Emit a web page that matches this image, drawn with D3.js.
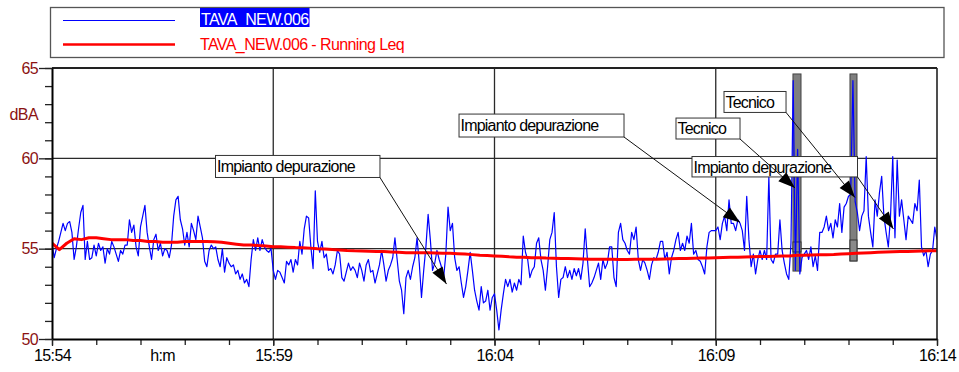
<!DOCTYPE html>
<html><head><meta charset="utf-8">
<script src="https://cdn.jsdelivr.net/npm/d3@7"></script>
<style>
html,body{margin:0;padding:0;background:#fff;}
svg{display:block;font-family:"Liberation Sans",Arial,sans-serif;}
</style></head><body>
<svg id="chart" width="959" height="372"></svg>
<script>
// ---------- data ----------
const seriesName = "TAVA_NEW.006";
const leqName = "TAVA_NEW.006 - Running Leq";
const xTickSeconds = [0, 300, 600, 900, 1200];
const xTickLabels = ["15:54", "15:59", "16:04", "16:09", "16:14"];
const xUnitLabel = "h:m";
const xUnitSecond = 150;
const yTickValues = [50, 55, 60, 65];
const yUnitLabel = "dBA";
const sampleStep = 3;   // seconds between samples
const levels = [
55.3,54.5,55.0,55.4,55.9,56.4,56.0,56.4,56.5,55.9,54.4,55.1,56.1,57.0,57.4,54.4,55.4,54.4,54.5,55.2,
54.6,55.3,54.9,55.1,54.2,55.0,54.7,55.4,55.1,54.7,54.3,54.9,54.7,55.2,55.2,56.6,55.9,56.3,55.1,54.6,
56.2,56.8,57.4,55.9,55.1,54.4,55.5,55.8,54.9,55.3,54.6,55.0,54.9,54.5,55.2,56.8,57.7,57.9,56.6,56.1,
55.2,55.9,55.1,56.4,56.0,55.5,56.8,56.2,55.6,54.3,54.0,54.9,55.2,55.0,55.1,54.4,54.0,55.0,53.7,54.5,
54.2,54.0,54.1,53.6,53.8,53.3,53.6,53.1,53.3,52.9,54.4,55.5,54.9,55.6,54.9,55.5,55.1,54.9,54.8,55.0,
53.8,53.3,53.8,53.7,53.4,53.1,54.3,54.1,54.4,53.7,54.4,54.1,55.4,54.7,56.1,56.8,56.7,55.1,53.9,58.2,
55.4,54.8,55.4,54.5,54.7,53.8,53.9,53.6,54.1,54.9,54.7,53.4,53.2,53.7,54.2,53.8,54.0,53.8,53.4,54.2,
53.8,53.2,54.1,54.4,53.7,53.8,53.1,53.6,54.1,54.9,54.1,53.2,53.8,54.1,54.5,55.6,54.4,53.2,52.7,51.4,
53.4,53.8,53.3,54.0,54.5,55.6,54.2,52.3,53.8,55.1,56.9,55.5,53.8,54.2,54.9,54.4,54.0,53.4,54.7,57.3,
56.0,56.4,54.5,53.8,54.0,53.1,52.3,52.9,53.8,54.8,53.8,52.7,52.1,51.6,52.9,52.0,52.1,52.7,51.6,52.3,
52.5,51.6,50.5,51.6,52.5,53.3,52.9,53.3,52.6,53.1,52.7,53.3,53.0,55.7,54.8,54.4,53.4,53.8,54.0,55.3,
55.6,54.4,53.8,52.7,54.0,55.5,55.9,57.0,54.0,52.3,53.3,53.4,54.0,53.4,53.8,53.3,53.9,53.5,53.9,53.3,
54.2,56.1,54.4,52.9,53.1,53.4,53.8,54.2,53.3,54.4,53.9,54.2,55.1,55.1,53.4,52.9,55.9,56.4,55.5,55.3,
54.9,54.7,55.9,55.5,56.2,54.4,53.8,54.4,54.2,53.8,53.3,54.1,54.5,54.4,54.8,55.4,55.4,54.4,54.8,53.6,
54.5,54.9,55.5,55.9,54.9,55.3,54.9,55.7,55.3,56.4,54.7,54.9,54.4,54.3,54.0,53.6,55.1,55.9,56.0,56.0,
56.0,56.2,55.5,56.4,56.8,56.0,57.7,56.4,56.4,56.0,56.6,56.4,56.0,54.9,57.9,55.5,54.0,54.7,53.6,54.4,
54.9,54.4,54.9,54.4,59.0,54.4,54.2,54.7,54.7,56.6,54.9,54.2,53.6,53.3,55.3,64.3,53.8,60.5,53.6,54.5,
54.7,54.9,54.4,55.1,54.0,54.6,53.8,55.9,55.9,56.2,56.8,56.0,56.4,55.6,56.6,56.2,57.5,55.9,57.3,57.5,
57.9,58.0,64.3,57.6,57.0,56.0,56.8,57.1,60.1,56.8,55.9,55.1,57.7,56.8,58.1,59.0,56.8,55.9,55.1,56.8,
60.1,55.6,59.9,56.8,57.7,56.6,55.5,56.8,56.6,56.4,57.5,57.1,58.8,55.1,54.6,54.9,54.0,54.7,54.9,56.2,
55.5
];
const leqStep = 10;     // seconds between running-Leq values
const leq = [
55.3,54.95,55.3,55.55,55.5,55.6,55.6,55.55,55.5,55.5,55.5,55.45,55.45,55.4,55.4,55.35,55.35,55.35,55.4,55.4,
55.4,55.4,55.38,55.35,55.3,55.25,55.2,55.2,55.17,55.15,55.1,55.1,55.08,55.06,55.05,55.03,55.0,54.98,54.95,54.93,
54.9,54.88,54.87,54.86,54.85,54.84,54.82,54.8,54.78,54.77,54.77,54.77,54.76,54.75,54.74,54.72,54.7,54.67,54.64,54.62,
54.6,54.58,54.55,54.53,54.52,54.5,54.5,54.48,54.47,54.46,54.45,54.44,54.43,54.42,54.42,54.41,54.41,54.4,54.4,54.41,
54.41,54.42,54.42,54.43,54.44,54.45,54.46,54.47,54.48,54.49,54.5,54.51,54.52,54.53,54.54,54.55,54.56,54.57,54.58,54.59,
54.6,54.63,54.64,54.65,54.66,54.67,54.68,54.7,54.72,54.74,54.76,54.78,54.8,54.82,54.83,54.84,54.85,54.86,54.87,54.88,
54.88
];
// annotations in data units: [t0, t1] seconds, [top dB, bottom dB], tip [t, dB]
const annotationTexts = ["Impianto depurazione", "Impianto depurazione", "Tecnico", "Tecnico", "Impianto depurazione"];
const annotationBoxTimes = [[221.7, 444.7], [551.9, 775.6], [846.1, 932.9], [911.2, 995.3], [867.8, 1092.2]];
const annotationBoxLevels = [[60.16, 58.94], [62.45, 61.18], [62.23, 61.07], [63.70, 62.54], [60.10, 58.97]];
const annotationTips = [[534.9, 53.04], [932.9, 56.45], [1007.5, 58.36], [1088.8, 57.83], [1141.0, 56.09]];
// marker bars: time span, [top dB, bottom dB], inner band [dB, dB]
const markerTimes = [[1004.7, 1015.6], [1082.0, 1091.5]];
const markerLevels = [[64.67, 53.76], [64.67, 54.32]];
const markerBands = [[55.37, 54.82], [55.48, 54.32]];

// ---------- drawing ----------
const svg = d3.select("#chart");
const x = d3.scaleLinear().domain([0, 1200]).range([52, 937]);
const y = d3.scaleLinear().domain([50, 65]).range([339, 68]);
const FONT = 16, LS = "-0.6px";
const yLabelColor = "#8b1212";

// legend
const lg = svg.append("g");
lg.append("rect").attr("x", 50.5).attr("y", 7.5).attr("width", 893.5).attr("height", 50)
  .attr("fill", "#fff").attr("stroke", "#555").attr("stroke-width", 1.3);
lg.append("line").attr("x1", 63).attr("x2", 175).attr("y1", 20.5).attr("y2", 20.5)
  .attr("stroke", "#0000ff").attr("stroke-width", 1.2);
const hl = lg.append("rect").attr("x", 200).attr("y", 8).attr("height", 19).attr("fill", "#0000ff");
const t1 = lg.append("text").attr("x", 201).attr("y", 24.5).attr("font-size", FONT)
  .attr("letter-spacing", LS).attr("fill", "#fff").text(seriesName);
hl.attr("width", t1.node().getComputedTextLength() + 2);
lg.append("line").attr("x1", 63).attr("x2", 175).attr("y1", 44.5).attr("y2", 44.5)
  .attr("stroke", "#ff0000").attr("stroke-width", 2.6);
lg.append("text").attr("x", 200).attr("y", 50).attr("font-size", FONT)
  .attr("letter-spacing", LS).attr("fill", "#ff0000").text(leqName);

// gridlines
const grid = svg.append("g").attr("stroke", "#2a2a2a").attr("stroke-width", 1.3);
[55, 60].forEach(v => grid.append("line").attr("x1", x(0)).attr("x2", x(1200))
  .attr("y1", y(v)).attr("y2", y(v)));
[300, 600, 900].forEach(s => grid.append("line").attr("x1", x(s)).attr("x2", x(s))
  .attr("y1", y(65)).attr("y2", y(50)));

// clip
svg.append("clipPath").attr("id", "plotclip").append("rect")
  .attr("x", x(0)).attr("y", y(65)).attr("width", x(1200) - x(0)).attr("height", y(50) - y(65));

// marker bars
markerTimes.forEach((mt, i) => {
  const [top, bot] = markerLevels[i];
  svg.append("rect").attr("x", x(mt[0])).attr("y", y(top))
    .attr("width", x(mt[1]) - x(mt[0])).attr("height", y(bot) - y(top))
    .attr("fill", "#7f7f7f").attr("stroke", "#444").attr("stroke-width", 1);
  const [b1, b2] = markerBands[i];
  svg.append("rect").attr("x", x(mt[0])).attr("y", y(b1))
    .attr("width", x(mt[1]) - x(mt[0])).attr("height", y(b2) - y(b1))
    .attr("fill", "#8a8a8a").attr("stroke", "#333").attr("stroke-width", 1);
});

// data lines
const plot = svg.append("g").attr("clip-path", "url(#plotclip)");
plot.append("path").datum(levels)
  .attr("d", d3.line().x((d, i) => x(i * sampleStep)).y(d => y(d)))
  .attr("fill", "none").attr("stroke", "#0000ff").attr("stroke-width", 1.2)
  .attr("stroke-linejoin", "round");
plot.append("path").datum(leq)
  .attr("d", d3.line().x((d, i) => x(i * leqStep)).y(d => y(d)))
  .attr("fill", "none").attr("stroke", "#ff0000").attr("stroke-width", 3)
  .attr("stroke-linejoin", "round").attr("stroke-linecap", "round");

// annotations
const ann = svg.append("g");
annotationTexts.forEach((txt, i) => {
  const x0 = x(annotationBoxTimes[i][0]), x1 = x(annotationBoxTimes[i][1]);
  const y0 = y(annotationBoxLevels[i][0]), y1 = y(annotationBoxLevels[i][1]);
  ann.append("rect").attr("x", x0).attr("y", y0).attr("width", x1 - x0).attr("height", y1 - y0)
    .attr("fill", "#fff").attr("stroke", "#333").attr("stroke-width", 1);
  ann.append("text").attr("x", x0 + 1.5).attr("y", y0 + (y1 - y0) / 2 + 5.8)
    .attr("font-size", FONT).attr("letter-spacing", "-0.8px").attr("fill", "#000").text(txt);
});
annotationTexts.forEach((txt, i) => {
  const sx = x(annotationBoxTimes[i][1]), sy = y(annotationBoxLevels[i][1]);
  const tx = x(annotationTips[i][0]), ty = y(annotationTips[i][1]);
  ann.append("line").attr("x1", sx).attr("y1", sy).attr("x2", tx).attr("y2", ty)
    .attr("stroke", "#111").attr("stroke-width", 1);
  const a = Math.atan2(ty - sy, tx - sx), L = 17, Wd = 6;
  const bx = tx - L * Math.cos(a), by = ty - L * Math.sin(a);
  const px = -Math.sin(a) * Wd, py = Math.cos(a) * Wd;
  ann.append("path").attr("d", `M${tx},${ty}L${bx + px},${by + py}L${bx - px},${by - py}Z`)
    .attr("fill", "#000");
});

// frame top/right
svg.append("line").attr("x1", x(0)).attr("x2", x(1200)).attr("y1", y(65)).attr("y2", y(65))
  .attr("stroke", "#222").attr("stroke-width", 2);
svg.append("line").attr("x1", x(1200)).attr("x2", x(1200)).attr("y1", y(65)).attr("y2", y(50))
  .attr("stroke", "#222").attr("stroke-width", 1.6);

// y axis
const yMinor = svg.append("g").attr("transform", `translate(${x(0)},0)`)
  .call(d3.axisLeft(y).tickValues(d3.range(50, 66)).tickSize(7).tickSizeOuter(0).tickFormat(""));
yMinor.select(".domain").remove();
yMinor.selectAll("line").attr("stroke", "#222").attr("stroke-width", 1.3);
const yMajor = svg.append("g").attr("transform", `translate(${x(0)},0)`)
  .call(d3.axisLeft(y).tickValues(yTickValues).tickSize(13).tickPadding(1).tickSizeOuter(0).tickFormat(d3.format("d")));
yMajor.select(".domain").attr("stroke", "#000").attr("stroke-width", 2);
yMajor.selectAll("line").attr("stroke", "#222").attr("stroke-width", 1.3);
yMajor.selectAll("text").attr("font-size", FONT).attr("letter-spacing", LS)
  .attr("fill", yLabelColor).attr("font-family", "Liberation Sans, Arial, sans-serif");
svg.append("text").attr("x", 38).attr("y", 120).attr("text-anchor", "end")
  .attr("font-size", FONT).attr("letter-spacing", LS).attr("fill", yLabelColor).text(yUnitLabel);

// x axis
const xMinor = svg.append("g").attr("transform", `translate(0,${y(50)})`)
  .call(d3.axisBottom(x).tickValues(d3.range(0, 1201, 60)).tickSize(6).tickSizeOuter(0).tickFormat(""));
xMinor.select(".domain").remove();
xMinor.selectAll("line").attr("stroke", "#222").attr("stroke-width", 1.3);
const xMajor = svg.append("g").attr("transform", `translate(0,${y(50)})`)
  .call(d3.axisBottom(x).tickValues(xTickSeconds).tickSize(7).tickPadding(3.5).tickSizeOuter(0)
    .tickFormat((d, i) => xTickLabels[i]));
xMajor.select(".domain").attr("stroke", "#000").attr("stroke-width", 2);
xMajor.selectAll("line").attr("stroke", "#222").attr("stroke-width", 1.3);
xMajor.selectAll("text").attr("font-size", FONT).attr("letter-spacing", LS)
  .attr("fill", "#000").attr("font-family", "Liberation Sans, Arial, sans-serif");
svg.append("text").attr("x", x(xUnitSecond)).attr("y", 361).attr("text-anchor", "middle")
  .attr("font-size", FONT).attr("letter-spacing", LS).attr("fill", "#000").text(xUnitLabel);
</script>
</body></html>
